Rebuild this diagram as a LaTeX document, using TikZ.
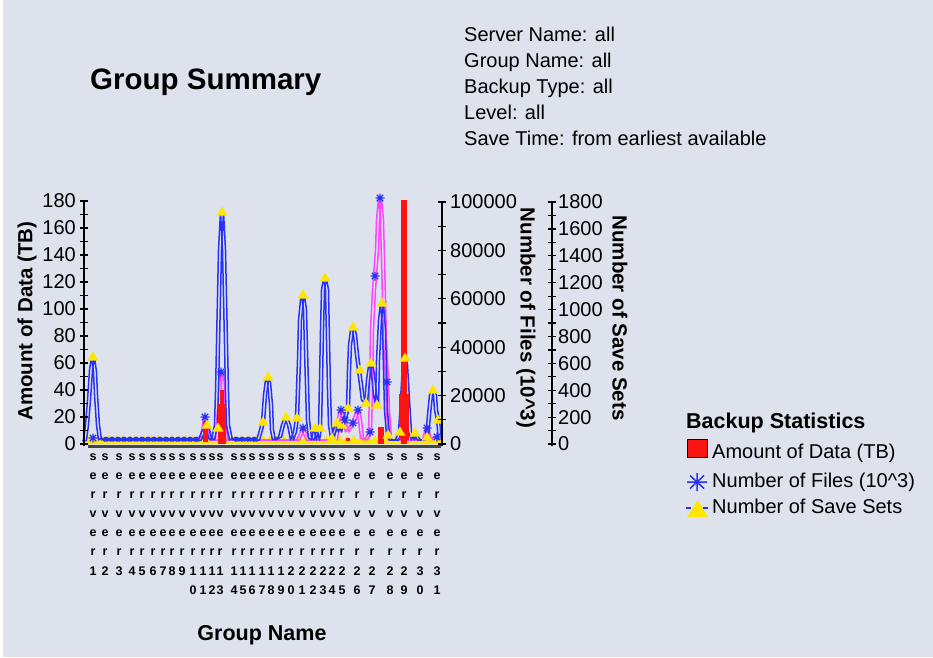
\documentclass[tikz,border=0pt]{standalone}
\usepackage{fontspec}
\setmainfont{Liberation Sans}
\definecolor{bg}{RGB}{222,226,237}
\definecolor{sblue}{RGB}{40,50,245}
\definecolor{fmag}{RGB}{255,70,255}
\definecolor{myyel}{RGB}{255,230,0}
\definecolor{dred}{RGB}{250,20,20}
\definecolor{axgray}{RGB}{70,70,70}
\tikzset{
  axisline/.style={line width=1.5pt, draw=black},
  tickmark/.style={line width=1.2pt, draw=black},
  ticklab/.style={font=\fontsize{20}{24}\selectfont, inner sep=0pt},
  axtitle/.style={font=\fontsize{20.5}{24}\selectfont\bfseries, inner sep=0pt},
  infotext/.style={font=\fontsize{20}{24}\selectfont, inner sep=0pt, anchor=base west},
  cat/.style={font=\fontsize{12.5}{14}\selectfont\bfseries, inner sep=0pt, anchor=base},
  sline/.style={draw=sblue, line width=1.5pt, line join=round},
  fline/.style={draw=fmag, line width=1.5pt, line join=round},
  trimark/.style={fill=myyel},
  astmark/.style={draw=sblue, line width=1.3pt},
  bar/.style={fill=dred}
}
\newcommand\trimk[2]{\fill[trimark] ({#1-5.5},{#2+3.5}) -- ({#1+5.5},{#2+3.5}) -- (#1,{#2-5.5}) -- cycle;}
\newcommand\astmk[3]{\draw[astmark] ({#1-#3},#2) -- ({#1+#3},#2) (#1,{#2-#3}) -- (#1,{#2+#3}) ({#1-0.7*#3},{#2-0.7*#3}) -- ({#1+0.7*#3},{#2+0.7*#3}) ({#1-0.7*#3},{#2+0.7*#3}) -- ({#1+0.7*#3},{#2-0.7*#3});}
\def\sspath{(84,441) -- (85,440) -- (87,425) -- (89,400) -- (91,370) -- (93,357) -- (95,372) -- (96,395) -- (98,425) -- (100,440)
 \foreach \x in {103,109,...,193} { -- (\x,438) -- ({\x+3},441) } -- (200,440) -- (203,432) -- (207,425) -- (210,438) -- (213,440)
 -- (216,425) -- (217,392) -- (218.5,320) -- (220,250) -- (222,212) -- (224,250) -- (225.5,320) -- (227,392) -- (228,425) -- (231,440)
 \foreach \x in {234,240,...,252} { -- (\x,438) -- ({\x+3},441) } -- (258,440) -- (261,430) -- (263,422) -- (265,395) -- (267,380)
 -- (269,382) -- (271,405) -- (272,430) -- (274,440) -- (280,437) -- (283,425) -- (286,417) -- (289,425) -- (292,440) -- (295,432)
 -- (297,418) -- (299,360) -- (300,320) -- (302,300) -- (303,295) -- (305,310) -- (306,350) -- (307,385) -- (308,420) -- (310,438)
 -- (313,440) -- (315,428) -- (318,440) -- (320,428) -- (321,380) -- (322,330) -- (323,290) -- (325,278) -- (327,290) -- (328,340)
 -- (329,390) -- (330,425) -- (332,438) -- (335,430) -- (337,423) -- (340,432) -- (342,425) -- (345,418) -- (348,408) -- (349,370)
 -- (350,345) -- (352,330) -- (353,327) -- (355,335) -- (357,355) -- (359,370) -- (361,385) -- (363,400) -- (366,403) -- (368,380)
 -- (370,366) -- (371,363) -- (373,375) -- (375,395) -- (377,405) -- (378,360) -- (380,320) -- (382,303) -- (384,330) -- (385,370)
 -- (386,410) -- (388,435) -- (391,440) -- (397,440) -- (400,432) -- (402,400) -- (404,365) -- (405,358) -- (406,365) -- (408,400)
 -- (410,432) -- (413,440) -- (415,434) -- (419,440) -- (424,440) -- (427,437) -- (429,415) -- (431,395) -- (433,390) -- (435,395)
 -- (436,410) -- (438,420) -- (440,440)}
\def\fpath{(195,440) -- (202,436) -- (204,425) -- (205,418) -- (206,425) -- (208,436) -- (211,440) -- (217,440) -- (219,410)
 -- (220,385) -- (221,372) -- (222,372) -- (223,390) -- (224,415) -- (226,440) -- (298,440) -- (301,434) -- (303,428) -- (305,434)
 -- (308,440) -- (336,440) -- (338,422) -- (341,410) -- (344,420) -- (347,432) -- (350,428) -- (353,423) -- (355,418) -- (358,410)
 -- (360,420) -- (362,438) -- (366,440) -- (368,436) -- (370,432) -- (371,390) -- (372,330) -- (374,290) -- (375,276) -- (377,250)
 -- (378,220) -- (380,198) -- (382,220) -- (383,260) -- (384,300) -- (385,340) -- (387,382) -- (388,410) -- (390,440) -- (424,440)
 -- (427,428) -- (430,440) -- (436,437)}
\begin{document}
\begin{tikzpicture}[x=1pt,y=-1pt]
\useasboundingbox (0,0) rectangle (933,657);
\fill[bg] (0,0) rectangle (933,657);
\fill[white] (0,0) rectangle (2.5,657);

% header texts
\node[font=\fontsize{29.5}{34}\selectfont\bfseries, inner sep=0pt, anchor=base west] (title) at (90,89) {Group Summary};
\node[infotext] (i1) at (464,41.5) {Server Name: all};
\node[infotext] (i2) at (464,67.5) {Group Name: all};
\node[infotext] (i3) at (464,93.5) {Backup Type: all};
\node[infotext] (i4) at (464,119.5) {Level: all};
\node[infotext] (i5) at (464,145.5) {Save Time: from earliest available};

% yellow band along baseline
\fill[myyel] (86,439) rectangle (441,444);
\foreach \x in {88,95,...,438} {\fill[myyel] ({\x-5},444) -- ({\x+5},444) -- (\x,435) -- cycle;}

% series lines
\draw[fline, xshift=-1.5pt] \fpath;
\draw[fline, xshift=1.5pt] \fpath;
\draw[sline, xshift=-1.5pt] \sspath;
\draw[sline, xshift=1.5pt] \sspath;

% bars (amount of data)
\fill[bar] (203,421) rectangle (208,442);
\fill[bar] (218,404) rectangle (226,444);
\fill[bar] (220,390) rectangle (224,404);
\fill[bar] (346,438) rectangle (350,441);
\fill[bar] (378,427) rectangle (384,444);
\fill[bar] (401,200) rectangle (407,444);
\fill[bar] (399,394) rectangle (409,440);

% small markers along baseline
\foreach \x in {106,112,...,196} {\astmk{\x}{439}{2.5}}
\foreach \x in {236,242,...,256} {\astmk{\x}{439}{2.5}}

% save sets markers
\foreach \p/\q in {93/357,207/425,218/428,222/212,263/422,268/377,286/417,297/418,303/295,315/428,320/428,325/278,332/438,337/423,342/425,348/408,353/327,360/370,366/403,371/363,377/405,382/303,388/435,400/432,405/358,415/433,427/437,433/390,438/420} {\trimk{\p}{\q}}

% files markers
\foreach \p/\q in {93/438,205/417,221/372,303/428,341/410,345/420,353/423,358/410,370/432,375/276,380/198,387/382,427/428,437/437} {\astmk{\p}{\q}{4.5}}

% x axis line
\draw[axgray, line width=2.2pt] (88,446.5) -- (441,446.5);

% left axis
\draw[axisline] (84,201) -- (84,446);
\foreach \v in {0,10,...,180} {\draw[tickmark] (80,{444-1.35*\v}) -- (88,{444-1.35*\v});}
\foreach \v in {0,20,...,180} {\node[ticklab, anchor=east] (la\v) at (76,{444-1.35*\v}) {\v};}
\node[axtitle, rotate=90] (lt) at (27,321) {Amount of Data (TB)};

% middle axis
\draw[axisline] (442,202) -- (442,446);
\foreach \k in {0,...,10} {\draw[tickmark] (438,{444-24.2*\k}) -- (446,{444-24.2*\k});}
\foreach \k/\t in {0/0,2/20000,4/40000,6/60000,8/80000,10/100000} {\node[ticklab, anchor=west] (lm\k) at (450,{444-24.2*\k}) {\t};}
\node[axtitle, rotate=-90] (mt) at (526,318) {Number of Files (10\^{}3)};

% right axis
\draw[axisline] (552,202) -- (552,446);
\foreach \k in {0,...,18} {\draw[tickmark] (548,{444-13.444*\k}) -- (556,{444-13.444*\k});}
\foreach \k/\t in {0/0,2/200,4/400,6/600,8/800,10/1000,12/1200,14/1400,16/1600,18/1800} {\node[ticklab, anchor=west] (lr\k) at (558,{444-13.444*\k}) {\t};}
\node[axtitle, rotate=-90] (rt) at (620,318) {Number of Save Sets};

% category labels
\foreach \x/\a/\b [count=\i] in {93/1/{},105/2/{},119/3/{},132/4/{},142/5/{},153/6/{},163/7/{},172/8/{},182/9/{},193/1/0,203/1/1,212/1/2,220/1/3,234/1/4,243/1/5,252/1/6,262/1/7,271/1/8,281/1/9,291/2/0,302/2/1,313/2/2,323/2/3,332/2/4,342/2/5,357/2/6,372/2/7,390/2/8,404/2/9,420/3/0,437/3/1} {
  \foreach \c [count=\r] in {s,e,r,v,e,r} {\node[cat] (c\i r\r) at (\x,{441+19*\r}) {\c};}
  \node[cat] (c\i d) at (\x,575) {\a};
  \node[cat] (c\i e) at (\x,594) {\b};
}
\node[axtitle, font=\fontsize{21.5}{24}\selectfont\bfseries, anchor=base] (xt) at (262,640) {Group Name};

% legend
\node[font=\fontsize{21.5}{24}\selectfont\bfseries, inner sep=0pt, anchor=base west] (lgt) at (686,428) {Backup Statistics};
\draw[fill=dred, draw=black, line width=1pt] (687,439) rectangle (707,457);
\node[infotext] (lg1) at (712,458) {Amount of Data (TB)};
\draw[astmark, line width=1.5pt] (687,482) -- (707,482) (697,473) -- (697,491) (690,475.5) -- (704,488.5) (690,488.5) -- (704,475.5);
\node[infotext] (lg2) at (712,487) {Number of Files (10\^{}3)};
\fill[myyel] (687,517) -- (708,517) -- (697.5,500) -- cycle;
\draw[sblue, line width=1.5pt] (686,508) -- (691,508) (703,508) -- (708,508);
\node[infotext] (lg3) at (712,513) {Number of Save Sets};
\end{tikzpicture}
\end{document}
